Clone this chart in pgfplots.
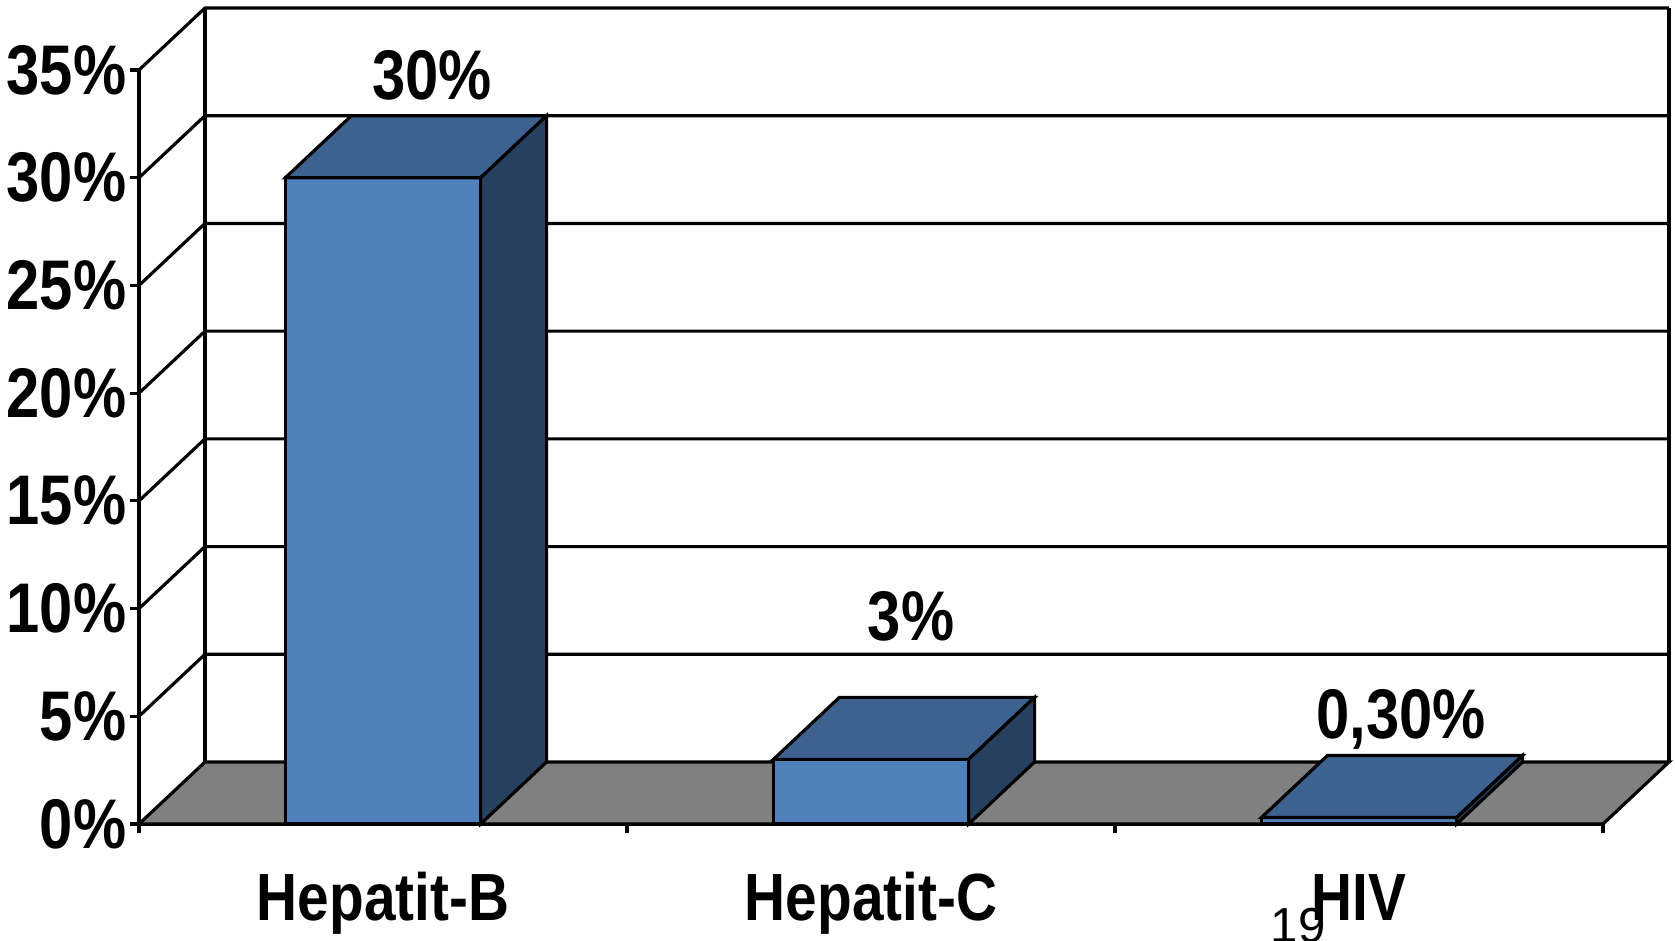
\documentclass[border=0pt]{standalone}
\usepackage{pgfplots}
\pgfplotsset{compat=1.18}
\usepackage{fontspec}
\setmainfont{Liberation Sans}[FakeStretch=0.85]
\newfontfamily\plainfont{Liberation Sans}
\definecolor{barfront}{HTML}{4F81BD}
\definecolor{bartop}{HTML}{3D6290}
\definecolor{barside}{HTML}{28405F}
\definecolor{floorgray}{HTML}{808080}
\begin{document}
\begin{tikzpicture}
\path[use as bounding box] (0,0) rectangle (167.5mm,94mm);
\begin{axis}[
  at={(13.9mm,11.6mm)}, anchor=south west,
  scale only axis, width=146.4mm, height=75.4mm,
  xmin=0, xmax=3, ymin=0, ymax=35,
  clip=false,
  axis lines=left, axis line style={-, line width=0.9pt, black},
  tick align=outside, major tick length=0.9mm,
  every tick/.style={black, line width=0.9pt},
  xtick={0,1,2,3}, xticklabels={,,,},
  ytick={0,5,...,35},
  yticklabels={0\%,5\%,10\%,15\%,20\%,25\%,30\%,35\%},
  yticklabel style={font=\bfseries\fontsize{20}{24}\selectfont, anchor=east, inner sep=0pt, xshift=-0.3mm},
]
% floor
\addplot[fill=floorgray, draw=black, line width=0.9pt] coordinates {(0,0) (3,0) (3.1352,2.878) (0.1352,2.878)} -- cycle;
% walls
\addplot[black, line width=0.9pt] coordinates {(0.1352,2.878) (0.1352,37.878)};
\addplot[black, line width=0.9pt] coordinates {(3.1352,2.878) (3.1352,37.878)};
\addplot[black, line width=0.9pt] coordinates {(0,5) (0.1352,7.878) (3.1352,7.878)};
\addplot[black, line width=0.9pt] coordinates {(0,10) (0.1352,12.878) (3.1352,12.878)};
\addplot[black, line width=0.9pt] coordinates {(0,15) (0.1352,17.878) (3.1352,17.878)};
\addplot[black, line width=0.9pt] coordinates {(0,20) (0.1352,22.878) (3.1352,22.878)};
\addplot[black, line width=0.9pt] coordinates {(0,25) (0.1352,27.878) (3.1352,27.878)};
\addplot[black, line width=0.9pt] coordinates {(0,30) (0.1352,32.878) (3.1352,32.878)};
\addplot[black, line width=0.9pt] coordinates {(0,35) (0.1352,37.878) (3.1352,37.878)};
% Hepatit-B = 30
\addplot[fill=barfront, draw=black, line width=0.9pt] coordinates {(0.3,0) (0.3,30) (0.7,30) (0.7,0)} -- cycle;
\addplot[fill=bartop, draw=black, line width=0.9pt] coordinates {(0.3,30) (0.7,30) (0.8352,32.878) (0.4352,32.878)} -- cycle;
\addplot[fill=barside, draw=black, line width=0.9pt] coordinates {(0.7,0) (0.7,30) (0.8352,32.878) (0.8352,2.878)} -- cycle;
% Hepatit-C = 3
\addplot[fill=barfront, draw=black, line width=0.9pt] coordinates {(1.3,0) (1.3,3) (1.7,3) (1.7,0)} -- cycle;
\addplot[fill=bartop, draw=black, line width=0.9pt] coordinates {(1.3,3) (1.7,3) (1.8352,5.878) (1.4352,5.878)} -- cycle;
\addplot[fill=barside, draw=black, line width=0.9pt] coordinates {(1.7,0) (1.7,3) (1.8352,5.878) (1.8352,2.878)} -- cycle;
% HIV = 0.3
\addplot[fill=barfront, draw=black, line width=0.9pt] coordinates {(2.3,0) (2.3,0.3) (2.7,0.3) (2.7,0)} -- cycle;
\addplot[fill=bartop, draw=black, line width=0.9pt] coordinates {(2.3,0.3) (2.7,0.3) (2.8352,3.178) (2.4352,3.178)} -- cycle;
\addplot[fill=barside, draw=black, line width=0.9pt] coordinates {(2.7,0) (2.7,0.3) (2.8352,3.178) (2.8352,2.878)} -- cycle;
% value labels
\node[font=\bfseries\fontsize{20}{24}\selectfont, anchor=base, inner sep=0pt] at (axis cs:0.600,33.65) {30\%};
\node[font=\bfseries\fontsize{20}{24}\selectfont, anchor=base, inner sep=0pt] at (axis cs:1.582,8.54) {3\%};
\node[font=\bfseries\fontsize{20}{24}\selectfont, anchor=base, inner sep=0pt] at (axis cs:2.586,3.99) {0,30\%};
% category labels
\node[font=\bfseries\fontsize{19}{23}\selectfont, anchor=base, inner sep=0pt, yshift=-9.6mm] at (axis cs:0.5,0) {Hepatit-B};
\node[font=\bfseries\fontsize{19}{23}\selectfont, anchor=base, inner sep=0pt, yshift=-9.6mm] at (axis cs:1.5,0) {Hepatit-C};
\node[font=\bfseries\fontsize{19}{23}\selectfont, anchor=base, inner sep=0pt, yshift=-9.6mm] at (axis cs:2.5,0) {HIV};
\end{axis}
\node[font=\plainfont\fontsize{14}{16}\selectfont, anchor=base west, inner sep=0pt] at (127mm,-0.2mm) {19};
\end{tikzpicture}
\end{document}
